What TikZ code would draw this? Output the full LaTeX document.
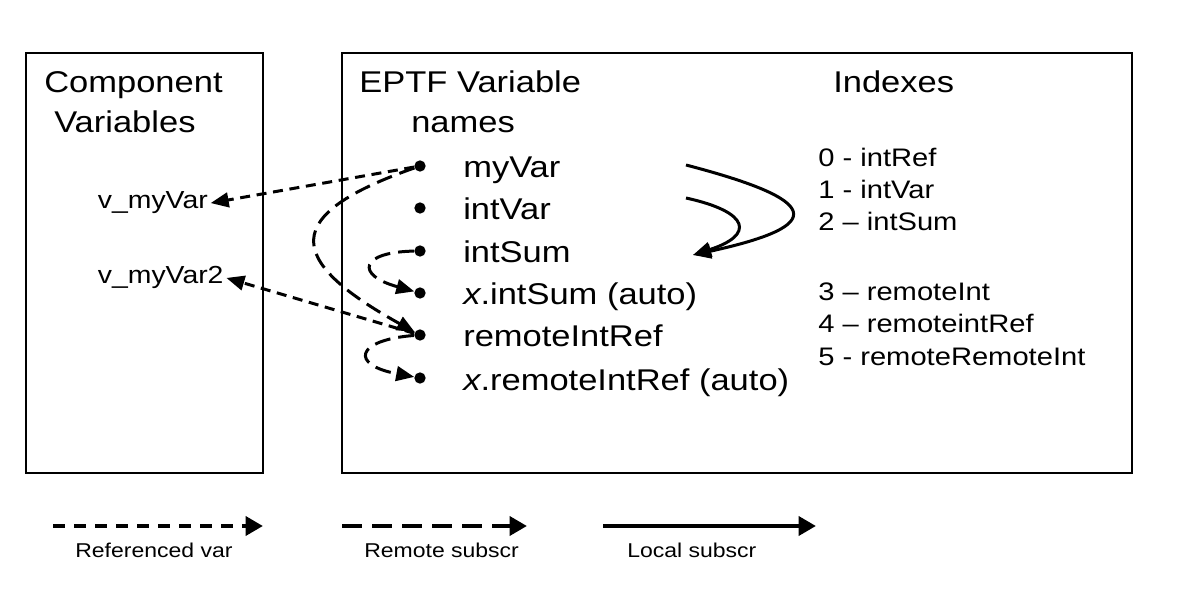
\documentclass[tikz,border=0pt]{standalone}
\usepackage{fontspec}
\setmainfont{Liberation Sans}[FakeStretch=1.15]
\usetikzlibrary{arrows.meta}

\begin{document}
\begin{tikzpicture}[
    x=0.75pt, y=-0.75pt,
    frame/.style={draw, line width=1.5pt},
    dot/.style={circle, fill, inner sep=0pt, minimum size=8.5pt},
    title/.style={anchor=base west, inner sep=0pt, font=\fontsize{22.5}{27}\selectfont},
    vname/.style={anchor=base west, inner sep=0pt, font=\fontsize{22.5}{27}\selectfont},
    idx/.style={anchor=base west, inner sep=0pt, font=\fontsize{19}{23}\selectfont},
    cvar/.style={anchor=base west, inner sep=2pt, font=\fontsize{18.5}{22}\selectfont},
    legtxt/.style={anchor=base west, inner sep=0pt, font=\fontsize{15}{18}\selectfont},
    refvar/.style={line width=2.25pt, dash pattern=on 7.5pt off 5pt, -{Triangle[length=13.5pt,width=11pt]}},
    remsub/.style={line width=2.25pt, dash pattern=on 12pt off 6pt, -{Triangle[length=13.5pt,width=11pt]}},
    locsub/.style={line width=2.25pt, -{Triangle[length=13.5pt,width=11pt]}},
    legend/.style={line width=3.5pt, -{Triangle[length=13pt,width=14pt]}}
]

\fill[white] (0,0) rectangle (1195,591);
\useasboundingbox (0,0) rectangle (1195,591);

\draw[frame] (26,53) rectangle (263,473);
\draw[frame] (342,53) rectangle (1132,473);

\node[title] (comp) at (44,93) {Component};
\node[title] (vars) at (54,133) {Variables};
\node[title] (eptf) at (359,93) {EPTF Variable};
\node[title] (names) at (411,133) {names};
\node[title] (indexes) at (833,93) {Indexes};

\node[cvar] (cvar1) at (95,209) {v\_myVar};
\node[cvar] (cvar2) at (95,284) {v\_myVar2};

\node[dot] (b1) at (420,166) {};
\node[dot] (b2) at (420,208) {};
\node[dot] (b3) at (420,251) {};
\node[dot] (b4) at (420,293) {};
\node[dot] (b5) at (420,335) {};
\node[dot] (b6) at (420,378) {};

\node[vname] (myvar) at (463,178) {myVar};
\node[vname] (intvar) at (463,220) {intVar};
\node[vname] (intsum) at (463,263) {intSum};
\node[vname] (xintsum) at (463,305) {\textit{x}.intSum (auto)};
\node[vname] (remref) at (463,347) {remoteIntRef};
\node[vname] (xremref) at (463,390) {\textit{x}.remoteIntRef (auto)};

\node[idx] (i0) at (818,167) {0 - intRef};
\node[idx] (i1) at (818,199) {1 - intVar};
\node[idx] (i2) at (818,231) {2 -- intSum};
\node[idx] (i3) at (818,301) {3 -- remoteInt};
\node[idx] (i4) at (818,333) {4 -- remoteintRef};
\node[idx] (i5) at (818,365) {5 - remoteRemoteInt};

\draw[refvar] (b1) -- (cvar1.east);
\draw[refvar] (b5) -- (cvar2.east);
\draw[remsub] (b1) .. controls (280,215) and (285,260) .. (b5);
\draw[remsub] (b3) .. controls (360,252) and (355,275) .. (b4);
\draw[remsub] (b5) .. controls (355,340) and (350,365) .. (b6);

\coordinate (ls1) at (686,165);
\coordinate (ls2) at (686,198);
\coordinate (lsend) at (693,255);
\draw[locsub] (ls1) .. controls (820,200) and (830,225) .. (lsend);
\draw[locsub] (ls2) .. controls (750,212) and (755,235) .. (lsend);

\coordinate (l1a) at (53,526);
\coordinate (l1b) at (263,526);
\coordinate (l2a) at (342,526);
\coordinate (l2b) at (527,526);
\coordinate (l3a) at (603,526);
\coordinate (l3b) at (816,526);
\draw[legend, dash pattern=on 9pt off 6.75pt] (l1a) -- (l1b);
\draw[legend, dash pattern=on 15pt off 7.5pt] (l2a) -- (l2b);
\draw[legend] (l3a) -- (l3b);

\node[legtxt] (lt1) at (75,557) {Referenced var};
\node[legtxt] (lt2) at (364,557) {Remote subscr};
\node[legtxt] (lt3) at (627,557) {Local subscr};

\end{tikzpicture}
\end{document}
